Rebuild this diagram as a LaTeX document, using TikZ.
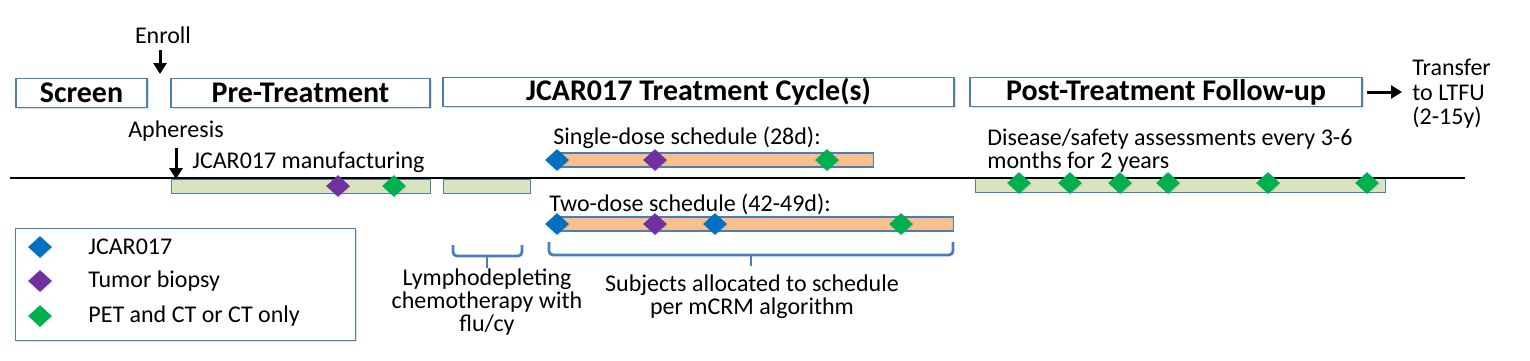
\documentclass[tikz,border=0pt]{standalone}
\usepackage{fontspec}
\setmainfont{Carlito}
\usetikzlibrary{arrows.meta,shadows,shapes.geometric}
\definecolor{bdr}{HTML}{4A7EBB}
\definecolor{grn}{HTML}{D7E4BD}
\definecolor{org}{HTML}{F9C08E}
\definecolor{dblue}{HTML}{0070C0}
\definecolor{dpurp}{HTML}{7030A0}
\definecolor{dgrn}{HTML}{00B050}
\begin{document}
\begin{tikzpicture}[x=0.5pt,y=-0.5pt,
  hdr/.style={draw=bdr, fill=white, line width=0.7pt, inner sep=0pt, minimum height=14.5pt,
    font=\fontsize{15}{16}\selectfont\bfseries,
    drop shadow={opacity=0.25, shadow xshift=0.8pt, shadow yshift=-0.8pt}},
  bar/.style={draw=bdr, line width=0.6pt, inner sep=0pt, minimum height=7pt},
  dia/.style={diamond, inner sep=0pt, minimum width=12pt, minimum height=11pt,
    drop shadow={opacity=0.2, shadow xshift=0.5pt, shadow yshift=-0.6pt}},
  txt/.style={font=\fontsize{12}{11.5}\selectfont, inner sep=0pt},
  blk/.style={line width=1.5pt, -{Triangle[length=5.5pt,width=6.5pt]}},
  brc/.style={draw=bdr, line width=1.4pt, rounded corners=2pt}]
\useasboundingbox (0,0) rectangle (1530,360);

% header boxes
\node[hdr, minimum width=65.5pt] (screen) at (81.5,93) {Screen};
\node[hdr, minimum width=129.5pt] (pre) at (300.5,93) {Pre-Treatment};
\node[hdr, minimum width=255.5pt] (jcar) at (698.5,92) {JCAR017 Treatment Cycle(s)};
\node[hdr, minimum width=196pt] (post) at (1166,92) {Post-Treatment Follow-up};

% transfer
\node[txt, align=left, anchor=west] (ltfu) at (1412,94) {Transfer\\[0.75pt]to LTFU\\[0.75pt](2-15y)};
\coordinate (ltfuA) at (1402,92);
\draw[blk] (post.east) ++(4,0) -- (ltfuA);

% enroll
\node[txt] (enroll) at (163,35) {Enroll};
\coordinate (enrollA) at (160,74);
\draw[blk] (enroll.south) ++(-3,6) -- (enrollA);

% apheresis
\node[txt] (aph) at (176,131) {Apheresis};
\coordinate (aphA) at (176,179);
\draw[blk] (aph.south) ++(0,6) -- (aphA);
\node[txt, anchor=west] (manu) at (192,162) {JCAR017 manufacturing};

% bars
\node[bar, fill=grn, minimum width=129.5pt, anchor=north west] (g1) at (171,179) {};
\node[bar, fill=grn, minimum width=43.5pt, anchor=north west] (g2) at (443,179) {};
\node[bar, fill=grn, minimum width=205pt, anchor=north west] (g3) at (975,178) {};

% main line
\coordinate (mlA) at (10,178);
\coordinate (mlB) at (1465,178);
\draw[line width=1pt] (mlA) -- (mlB);

% diamonds on pre-treatment bar
\node[dia, fill=dpurp] (p1) at (338,186) {};
\node[dia, fill=dgrn] (p2) at (394,186) {};

% post-treatment
\node[txt, align=left, anchor=west] (dis) at (987,151) {Disease/safety assessments every 3-6\\months for 2 years};
\foreach \x [count=\i] in {1019,1070,1120,1168,1268,1367}
  \node[dia, fill=dgrn] (q\i) at (\x,183) {};

% single-dose
\node[txt, anchor=west] (single) at (553,138) {Single-dose schedule (28d):};
\node[bar, fill=org, minimum width=158pt, anchor=west] (o1) at (557,160) {};
\node[dia, fill=dblue] (s1) at (557,160) {};
\node[dia, fill=dpurp] (s2) at (655,160) {};
\node[dia, fill=dgrn] (s3) at (827,160) {};

% two-dose
\node[txt, anchor=west] (two) at (549,204) {Two-dose schedule (42-49d):};
\node[bar, fill=org, minimum width=198pt, anchor=west] (o2) at (557,224) {};
\node[dia, fill=dblue] (t1) at (557,224) {};
\node[dia, fill=dpurp] (t2) at (655,224) {};
\node[dia, fill=dblue] (t3) at (715,224) {};
\node[dia, fill=dgrn] (t4) at (901,224) {};

% braces
\coordinate (b1L) at (453,245);
\coordinate (b1R) at (522,245);
\coordinate (b1T) at (487,268);
\draw[brc] (b1L) -- (453,256) -- (522,256) -- (b1R);
\draw[brc] (487,256) -- (b1T);
\node[txt, align=center, anchor=north] (lymph) at (487,268) {Lymphodepleting\\chemotherapy with\\flu/cy};

\coordinate (b2L) at (549,242);
\coordinate (b2R) at (953,242);
\coordinate (b2T) at (751,266);
\draw[brc] (b2L) -- (549,255) -- (953,255) -- (b2R);
\draw[brc] (751,255) -- (b2T);
\node[txt, align=center, anchor=north] (subj) at (752,274) {Subjects allocated to schedule\\per mCRM algorithm};

% legend
\node[draw=bdr, fill=white, line width=0.7pt, minimum width=170pt, minimum height=56pt, anchor=north west,
  drop shadow={opacity=0.25, shadow xshift=0.8pt, shadow yshift=-0.8pt}] (leg) at (15,228) {};
\node[dia, fill=dblue] (l1) at (40,247) {};
\node[dia, fill=dpurp] (l2) at (40,281) {};
\node[dia, fill=dgrn] (l3) at (40,316) {};
\node[txt, anchor=west] (lt1) at (88,247) {JCAR017};
\node[txt, anchor=west] (lt2) at (88,281) {Tumor biopsy};
\node[txt, anchor=west] (lt3) at (88,316) {PET and CT or CT only};
\end{tikzpicture}
\end{document}
